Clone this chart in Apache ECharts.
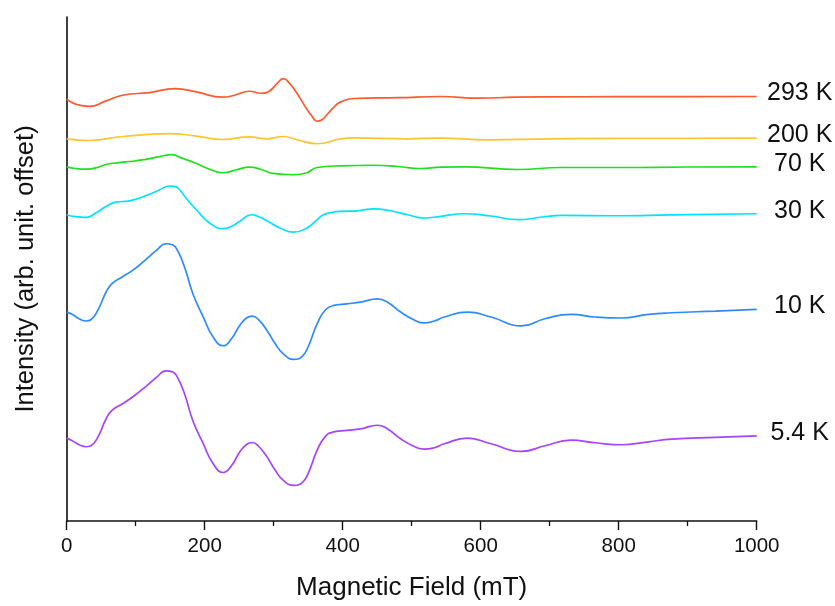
<!DOCTYPE html>
<html>
<head>
<meta charset="utf-8">
<script src="https://cdn.jsdelivr.net/npm/echarts@6/dist/echarts.min.js"></script>
<style>
html,body{margin:0;padding:0;background:#fff;}
#chart{width:835px;height:606px;}
</style>
</head>
<body>
<div id="chart"></div>
<script>
// Values (arb. units, vertically offset traces)
const seriesNames = ["293 K", "200 K", "70 K", "30 K", "10 K", "5.4 K"];
const seriesColors = ["#ff5a2e", "#ffc52e", "#1ee01e", "#00e2ff", "#2b8bff", "#a544ff"];

const k293 = [[0,426],[13,421],[33,418.7],[57,424.3],[81,430],[120,432.7],[157,436.7],[188,433.3],[226,428],[243,430],[265,434],[282,432],[294,434.3],[306,442.7],[314,446.7],[323,442],[333,432.7],[348,416],[355,409.3],[363,403.7],[370,405.3],[378,411],[387,417.7],[397,423.3],[416,426.7],[480,427.5],[542,428.7],[597,427],[650,428],[700,428.3],[800,428.5],[900,428.5],[1000,428.7]];
const k200 = [[0,386],[33,384.3],[81,388.3],[149,391.3],[188,388.7],[226,385.3],[265,388],[290,386],[314,388.3],[334,385],[363,381],[397,386],[416,387],[494,386],[542,386.7],[610,385],[700,386],[800,386.5],[900,386.5],[1000,386.7]];
const k70 = [[0,357.7],[13,356],[28,355.3],[42,356.7],[57,360],[76,362],[96,363.3],[115,365.3],[135,368],[152,370],[165,367],[188,361],[207,355.3],[227,351.7],[246,354.7],[265,357.3],[282,355],[299,351],[329,349.7],[348,351.7],[363,357],[397,358.7],[445,359.3],[480,358],[513,356],[542,357.3],[576,357.7],[654,355],[716,357],[800,357],[900,357.5],[1000,357.7]];
const k30 = [[0,309.3],[13,307.3],[28,306.7],[42,311],[57,317.7],[71,322],[91,323.3],[120,330],[134,334.3],[149,338.3],[156,338],[164,334.3],[173,326],[188,314.3],[207,301],[227,295.3],[239,297.7],[251,302.7],[268,309.3],[280,306.7],[290,303.3],[309,296],[329,291.7],[348,296],[363,304.3],[372,309.3],[385,311.7],[397,312.7],[421,313.3],[445,315.3],[469,313.3],[494,309.3],[518,306],[542,307.7],[576,310.3],[615,308],[654,304.3],[690,307],[716,308.7],[805,308.3],[900,309.5],[1000,310.3]];
const k10 = [[0,211],[8,208.7],[18,204.3],[28,202],[35,203.3],[45,212.7],[57,231],[66,240],[81,246.7],[96,253.3],[115,264.3],[130,273.3],[144,280],[154,278.7],[161,272.7],[171,256],[183,229.3],[198,206],[212,186],[227,177],[239,184.3],[251,197.7],[261,205.3],[269,207],[278,203.3],[290,192.7],[302,179.3],[314,168.7],[329,163.3],[341,166],[350,176],[363,199.3],[375,213.3],[387,217.7],[406,219.3],[426,221],[450,224.3],[465,221],[484,211],[503,203.3],[518,200],[533,202],[547,206],[581,211],[615,206],[659,197],[693,204.3],[731,208.7],[766,206],[804,205],[843,208.7],[877,210.3],[940,212],[1000,213.7]];
const k5_4 = [[0,83.7],[8,81],[18,77],[28,75],[35,76],[45,84.5],[57,103],[66,112],[81,118.5],[96,125.5],[115,136],[130,145],[144,151.7],[154,150.5],[161,144.5],[171,128],[183,101],[198,78],[212,58],[227,49],[239,56],[251,70],[261,77.5],[269,79.3],[278,75.5],[290,65],[302,51.5],[314,41],[329,36],[341,38.5],[350,48],[363,71.5],[375,85.5],[387,90],[406,91.5],[426,93],[450,96.7],[465,93],[484,83],[503,75.5],[518,72.5],[533,74],[547,78],[581,83.7],[615,78],[659,70.3],[693,76],[731,81.7],[766,79],[804,77],[843,80],[877,82.7],[940,84.5],[1000,86]];
const seriesData = [k293, k200, k70, k30, k10, k5_4];

const xTicks = [0, 200, 400, 600, 800, 1000];

const FONT = "'Liberation Sans', Arial, sans-serif";
const chart = echarts.init(document.getElementById('chart'), null, {renderer: 'canvas'});

chart.setOption({
  animation: false,
  backgroundColor: '#fff',
  grid: {left: 66.7, right: 78.3, top: 17, bottom: 80, containLabel: false},
  xAxis: {
    type: 'value',
    min: xTicks[0],
    max: xTicks[xTicks.length - 1],
    interval: 200,
    name: 'Magnetic Field (mT)',
    nameLocation: 'middle',
    nameGap: 54,
    nameTextStyle: {fontFamily: FONT, fontSize: 26, color: '#111'},
    axisLine: {show: true, lineStyle: {color: '#111', width: 1.6}},
    axisTick: {show: true, inside: false, length: 9, lineStyle: {color: '#111', width: 1.4}},
    minorTick: {show: true, splitNumber: 2, length: 5, lineStyle: {color: '#111', width: 1.3}},
    axisLabel: {fontFamily: FONT, fontSize: 20.5, color: '#111', margin: 15, formatter: v => String(v)},
    splitLine: {show: false}
  },
  yAxis: {
    type: 'value',
    min: 0,
    max: 509,
    name: 'Intensity (arb. unit. offset)',
    nameLocation: 'middle',
    nameGap: 28,
    nameTextStyle: {fontFamily: FONT, fontSize: 25.5, color: '#111'},
    axisLine: {show: true, lineStyle: {color: '#111', width: 1.6}},
    axisTick: {show: false},
    axisLabel: {show: false},
    splitLine: {show: false}
  },
  series: seriesNames.map((n, i) => ({
    name: n,
    type: 'line',
    data: seriesData[i],
    smooth: 0.5,
    symbol: 'none',
    lineStyle: {color: seriesColors[i], width: 1.7},
    itemStyle: {color: seriesColors[i]},
    endLabel: {
      show: true,
      formatter: n,
      fontFamily: FONT,
      fontSize: 25,
      color: '#111',
      align: 'center',
      verticalAlign: 'middle',
      distance: 43,
      offset: [0, -3]
    }
  }))
});
</script>
</body>
</html>
